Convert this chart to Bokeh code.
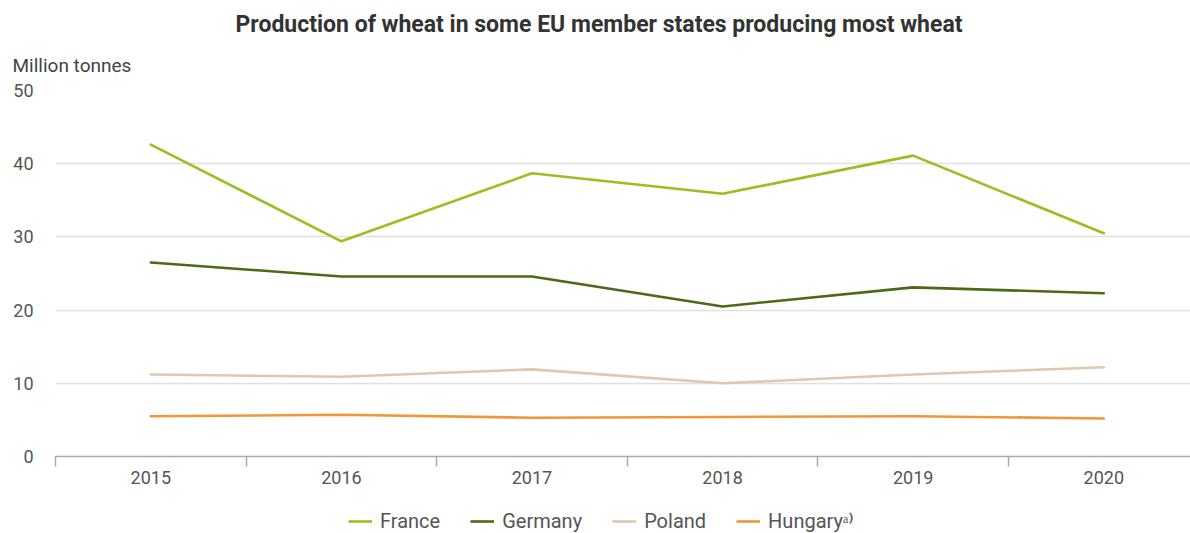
from bokeh.plotting import figure
from bokeh.layouts import column
from bokeh.models import Range1d, FixedTicker, Legend, LegendItem, Title
from bokeh.embed import file_html
from bokeh.resources import INLINE

years = ["2015", "2016", "2017", "2018", "2019", "2020"]
france = [42.6, 29.4, 38.7, 35.9, 41.1, 30.5]
germany = [26.5, 24.6, 24.6, 20.5, 23.1, 22.3]
poland = [11.2, 10.9, 11.9, 10.0, 11.2, 12.2]
hungary = [5.5, 5.7, 5.3, 5.4, 5.5, 5.2]
series_names = ["France", "Germany", "Poland", "Hungaryᵃ⁾"]
colors = ["#97c11f", "#4b6a17", "#e0c7ad", "#f39638"]
y_ticks = [0, 10, 20, 30, 40, 50]

xs = [i + 0.5 for i in range(len(years))]

FONT = "Roboto"

p = figure(width=1190, height=500, output_backend="svg", toolbar_location=None,
           x_range=Range1d(0, 5.955), y_range=Range1d(0, 50),
           min_border_left=55, min_border_right=0, min_border_top=90, min_border_bottom=44,
           title=None, outline_line_color=None)

p.add_layout(Title(text="Million tonnes", align="left", text_font=FONT, text_font_size="19px",
                   text_font_style="normal", text_color="#444", offset=-43, standoff=28), "above")
p.add_layout(Title(text="Production of wheat in some EU member states producing most wheat",
                   align="left", text_font=FONT, text_font_size="23px", text_font_style="bold",
                   text_color="#333", offset=180, standoff=0), "above")

for data, c in zip([france, germany, poland, hungary], colors):
    p.line(xs, data, line_color=c, line_width=2.6, line_join="round", line_cap="round")

# y axis
p.yaxis.ticker = FixedTicker(ticks=y_ticks)
p.yaxis.axis_line_color = None
p.yaxis.major_tick_line_color = None
p.yaxis.minor_tick_line_color = None
p.yaxis.major_tick_out = 0
p.yaxis.major_tick_in = 0
p.yaxis.major_label_standoff = 22
p.yaxis.major_label_text_font = FONT
p.yaxis.major_label_text_font_size = "18px"
p.yaxis.major_label_text_color = "#555"

p.ygrid.grid_line_color = "#e0e0e0"
p.ygrid.grid_line_width = 1.5
p.ygrid.ticker = FixedTicker(ticks=y_ticks)
p.xgrid.grid_line_color = None

# x axis
p.xaxis.ticker = FixedTicker(ticks=xs, minor_ticks=list(range(len(years) + 1)))
p.xaxis.major_label_overrides = {x: y for x, y in zip(xs, years)}
p.xaxis.axis_line_color = "#aaaaaa"
p.xaxis.axis_line_width = 1.5
p.xaxis.major_tick_line_color = None
p.xaxis.major_tick_out = 0
p.xaxis.major_tick_in = 0
p.xaxis.minor_tick_line_color = "#aaaaaa"
p.xaxis.minor_tick_line_width = 1.5
p.xaxis.minor_tick_out = 10
p.xaxis.minor_tick_in = 0
p.xaxis.major_label_standoff = 4
p.xaxis.major_label_text_font = FONT
p.xaxis.major_label_text_font_size = "18px"
p.xaxis.major_label_text_color = "#555"

# legend strip
lg = figure(width=1190, height=33, output_backend="svg", toolbar_location=None,
            x_range=Range1d(0, 1), y_range=Range1d(0, 1),
            min_border_left=0, min_border_right=0, min_border_top=0, min_border_bottom=0,
            outline_line_color=None)
lg.axis.visible = False
lg.grid.visible = False
items = []
for n, c in zip(series_names, colors):
    r = lg.line([-10, -9], [-10, -10], line_color=c, line_width=2.6)
    items.append(LegendItem(label=n, renderers=[r]))
legend = Legend(items=items, orientation="horizontal", location=(293, 0),
                label_text_font=FONT, label_text_font_size="20px", label_text_color="#555",
                glyph_width=24, glyph_height=18, label_standoff=8, spacing=30,
                padding=0, margin=0, border_line_color=None, background_fill_alpha=0)
lg.add_layout(legend, "center")

layout = column(p, lg, spacing=0)
open("out.html", "w").write(file_html(layout, INLINE))
